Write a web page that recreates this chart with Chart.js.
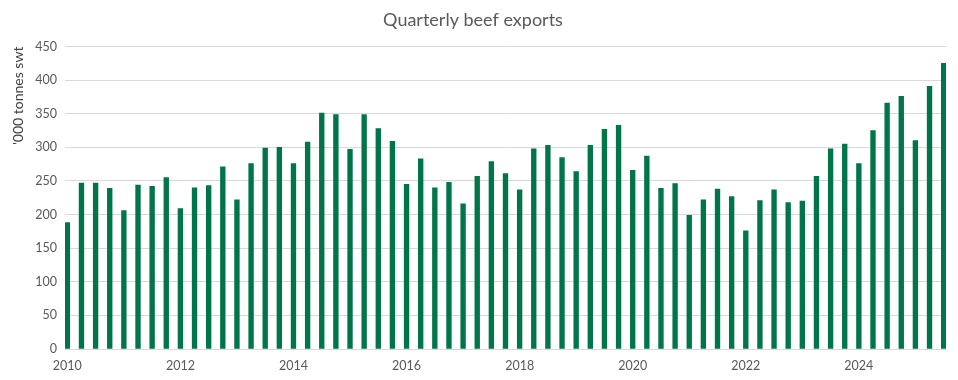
<!DOCTYPE html>
<html>
<head>
<meta charset="utf-8">
<script src="https://cdn.jsdelivr.net/npm/chart.js@4/dist/chart.umd.min.js"></script>
<style>
  html, body { margin: 0; padding: 0; background: #ffffff; }
  #wrap { width: 958px; height: 380px; }
</style>
</head>
<body>
<div id="wrap"><canvas id="c" width="958" height="380"></canvas></div>
<script>
// ---- data ----
const years = [2010, 2011, 2012, 2013, 2014, 2015, 2016, 2017, 2018, 2019, 2020, 2021, 2022, 2023, 2024, 2025];
const quarterNames = ['Q1', 'Q2', 'Q3', 'Q4'];
const exportsKt = [
  188, 247, 247, 239, 206, 244, 242, 255,
  209, 240, 243, 271, 222, 276, 299, 300,
  276, 308, 351, 349, 297, 349, 328, 309,
  245, 283, 240, 248, 216, 257, 279, 261,
  237, 298, 303, 285, 264, 303, 327, 333,
  266, 287, 239, 246, 199, 222, 238, 227,
  176, 221, 237, 218, 220, 257, 298, 305,
  276, 325, 366, 376, 310, 391, 425
];
const xTickLabels = ['2010', '2012', '2014', '2016', '2018', '2020', '2022', '2024'];
const yTicks = [0, 50, 100, 150, 200, 250, 300, 350, 400, 450];

// quarter category labels (one per bar)
const categories = [];
years.forEach(y => quarterNames.forEach(q => categories.push(y + ' ' + q)));
categories.length = exportsKt.length;

const FONT = "Lato, 'Open Sans', sans-serif";
const GREY = '#595959';

new Chart(document.getElementById('c'), {
  type: 'bar',
  data: {
    datasets: [{
      label: "'000 tonnes swt",
      data: exportsKt.map((v, i) => ({ x: i, y: v, label: categories[i] })),
      backgroundColor: '#00754A',
      borderWidth: 0,
      barThickness: 4.7
    }]
  },
  options: {
    responsive: false,
    animation: false,
    devicePixelRatio: 1,
    layout: { padding: { left: 0, right: 12, top: 0, bottom: 0 } },
    plugins: {
      legend: { display: false },
      tooltip: { enabled: false },
      title: {
        display: true,
        text: 'Quarterly beef exports',
        color: GREY,
        font: { family: FONT, size: 18, weight: 'normal' },
        padding: { top: 9, bottom: 16 }
      }
    },
    scales: {
      x: {
        type: 'linear',
        offset: false,
        min: -0.165,
        max: exportsKt.length - 1 + 0.165,
        grid: { display: false, drawTicks: false },
        border: { display: false },
        afterBuildTicks: s => { s.ticks = xTickLabels.map(t => ({ value: years.indexOf(+t) * 4 })); },
        afterFit: s => { s.height = 31; },
        ticks: {
          autoSkip: false,
          maxRotation: 0,
          padding: 9,
          color: GREY,
          font: { family: FONT, size: 12.5 },
          callback: v => xTickLabels[xTickLabels.indexOf(String(years[0] + v / 4))] || ''
        }
      },
      y: {
        min: 0,
        max: 450,
        afterBuildTicks: s => { s.ticks = yTicks.map(v => ({ value: v })); },
        afterFit: s => { s.width = 65; },
        grid: { color: '#d9d9d9', drawTicks: false, lineWidth: 1 },
        border: { display: false },
        ticks: {
          padding: 8,
          color: GREY,
          font: { family: FONT, size: 12.5 }
        },
        title: {
          display: true,
          text: "'000 tonnes swt",
          align: 'end',
          color: '#404040',
          font: { family: FONT, size: 14 },
          padding: { top: 10, bottom: 4 }
        }
      }
    }
  }
});
</script>
</body>
</html>
